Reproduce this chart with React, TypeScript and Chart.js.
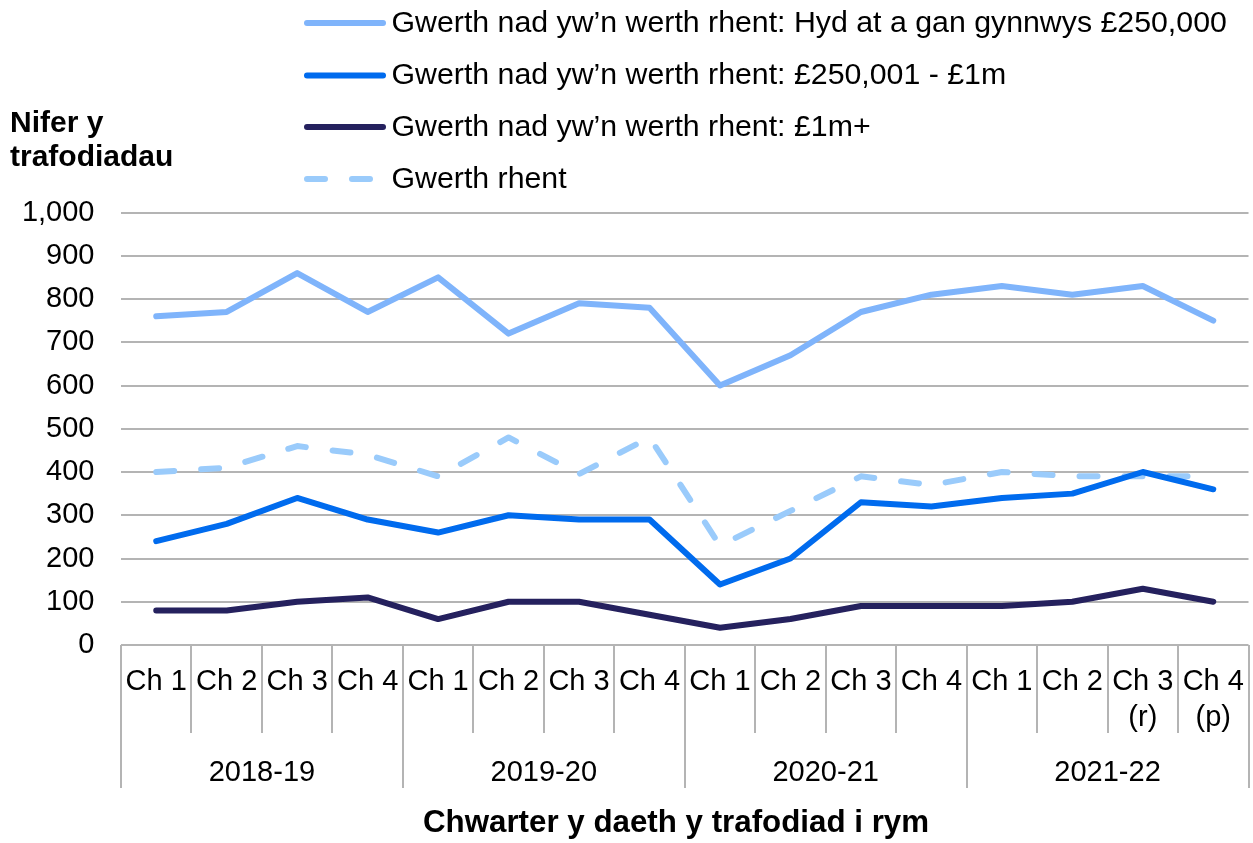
import React, { useEffect, useRef } from "react";
import { Chart, registerables } from "chart.js";

Chart.register(...registerables);

// ---------- data ----------
const quarterLabels: (string | string[])[] = [
  "Ch 1", "Ch 2", "Ch 3", "Ch 4",
  "Ch 1", "Ch 2", "Ch 3", "Ch 4",
  "Ch 1", "Ch 2", "Ch 3", "Ch 4",
  "Ch 1", "Ch 2", ["Ch 3", "(r)"], ["Ch 4", "(p)"],
];
const yearLabels = ["2018-19", "2019-20", "2020-21", "2021-22"];
const quartersPerYear = 4;

const seriesNames = [
  "Gwerth nad yw\u2019n werth rhent: Hyd at a gan gynnwys £250,000",
  "Gwerth nad yw\u2019n werth rhent: £250,001 - £1m",
  "Gwerth nad yw\u2019n werth rhent: £1m+",
  "Gwerth rhent",
];
const upTo250k = [760, 770, 860, 770, 850, 720, 790, 780, 600, 670, 770, 810, 830, 810, 830, 750];
const from250kTo1m = [240, 280, 340, 290, 260, 300, 290, 290, 140, 200, 330, 320, 340, 350, 400, 360];
const over1m = [80, 80, 100, 110, 60, 100, 100, 70, 40, 60, 90, 90, 90, 100, 130, 100];
const rentValue = [400, 410, 460, 440, 390, 480, 395, 480, 230, 310, 390, 370, 400, 390, 390, 390];

const yMin = 0;
const yMax = 1000;
const yStep = 100;

const yTitleLines = ["Nifer y", "trafodiadau"];
const xTitle = "Chwarter y daeth y trafodiad i rym";

// ---------- styles ----------
const FONT = "'Liberation Sans', Arial, Helvetica, sans-serif";
const GRID = "#B4B4B4";
const colors = ["#7FB4FB", "#006BEE", "#25215E", "#9ACBFB"];
const dashes: number[][] = [[], [], [], [18, 27]];

const decorPlugin = {
  id: "decor",
  afterDraw(chart: any) {
    const ctx: CanvasRenderingContext2D = chart.ctx;
    const xs = chart.scales.x;
    const area = chart.chartArea;
    const n = quarterLabels.length;
    const p0 = xs.getPixelForValue(0);
    const p1 = xs.getPixelForValue(1);
    const w = p1 - p0;
    ctx.save();

    // category separators below the axis
    ctx.strokeStyle = GRID;
    ctx.lineWidth = 2;
    for (let i = 0; i <= n; i++) {
      const bx = Math.round(p0 - w / 2 + i * w);
      const isYear = i % quartersPerYear === 0;
      ctx.beginPath();
      ctx.moveTo(bx, area.bottom);
      ctx.lineTo(bx, isYear ? 788 : 733);
      ctx.stroke();
    }

    // year group labels
    ctx.fillStyle = "#000";
    ctx.font = `29px ${FONT}`;
    ctx.textAlign = "center";
    ctx.textBaseline = "alphabetic";
    yearLabels.forEach((yl, k) => {
      const a = xs.getPixelForValue(k * quartersPerYear);
      const b = xs.getPixelForValue(k * quartersPerYear + quartersPerYear - 1);
      ctx.fillText(yl, (a + b) / 2, 781);
    });

    // axis titles
    ctx.font = `bold 30px ${FONT}`;
    ctx.textAlign = "left";
    ctx.fillText(yTitleLines[0], 10, 132);
    ctx.fillText(yTitleLines[1], 10, 165.5);
    ctx.font = `bold 31.3px ${FONT}`;
    ctx.textAlign = "center";
    ctx.fillText(xTitle, 676, 832);

    // legend
    const rowY = [23, 75.5, 127, 179];
    chart.data.datasets.forEach((ds: any, i: number) => {
      const y = rowY[i];
      ctx.strokeStyle = ds.borderColor;
      ctx.lineWidth = 6;
      ctx.lineCap = "round";
      ctx.setLineDash(ds.borderDash || []);
      ctx.beginPath();
      ctx.moveTo(307, y);
      ctx.lineTo(383, y);
      ctx.stroke();
      ctx.setLineDash([]);
      ctx.fillStyle = "#000";
      ctx.font = `30.3px ${FONT}`;
      ctx.textAlign = "left";
      ctx.textBaseline = "middle";
      ctx.fillText(ds.label, 391.5, y + 0.5);
    });
    ctx.restore();
  },
};

export default function App() {
  const canvasRef = useRef<HTMLCanvasElement | null>(null);

  useEffect(() => {
    document.body.style.margin = "0";
    document.body.style.overflow = "hidden";
    const canvas = canvasRef.current;
    if (!canvas) return;
    const seriesData = [upTo250k, from250kTo1m, over1m, rentValue];
    const chart = new Chart(canvas, {
      type: "line",
      data: {
        labels: quarterLabels,
        datasets: seriesData.map((d, i) => ({
          label: seriesNames[i],
          data: d,
          borderColor: colors[i],
          backgroundColor: colors[i],
          borderWidth: 6,
          borderDash: dashes[i],
          borderCapStyle: "round",
          borderJoinStyle: "round",
          pointRadius: 0,
          pointHoverRadius: 0,
          tension: 0,
          fill: false,
        })),
      },
      options: {
        animation: false,
        responsive: true,
        maintainAspectRatio: false,
        devicePixelRatio: 1,
        layout: { padding: { top: 212.5, right: 4.5, bottom: 0, left: 0 } },
        plugins: {
          legend: { display: false },
          tooltip: { enabled: false },
          title: { display: false },
        },
        events: [],
        scales: {
          x: {
            type: "category",
            offset: true,
            grid: { display: false, drawTicks: false },
            border: { display: false },
            ticks: {
              color: "#000",
              font: { family: FONT, size: 29, lineHeight: 1.25 },
              padding: 18.5,
              autoSkip: false,
              maxRotation: 0,
              minRotation: 0,
            },
            afterFit: (scale: any) => {
              scale.height = 198;
              scale.paddingLeft = 0;
              scale.paddingRight = 0;
            },
          },
          y: {
            min: yMin,
            max: yMax,
            ticks: {
              stepSize: yStep,
              color: "#000",
              font: { family: FONT, size: 29 },
              padding: 26.5,
              callback: (v: any) => Number(v).toLocaleString("en-US"),
            },
            grid: { color: GRID, lineWidth: 2, drawTicks: false },
            border: { display: false },
            afterFit: (scale: any) => {
              scale.width = 121;
              scale.paddingTop = 0;
              scale.paddingBottom = 0;
            },
          },
        },
      },
      plugins: [decorPlugin],
    });
    return () => chart.destroy();
  }, []);

  return (
    <div style={{ position: "fixed", left: 0, top: 0, width: 1253, height: 843, background: "#fff" }}>
      <canvas ref={canvasRef} />
    </div>
  );
}
